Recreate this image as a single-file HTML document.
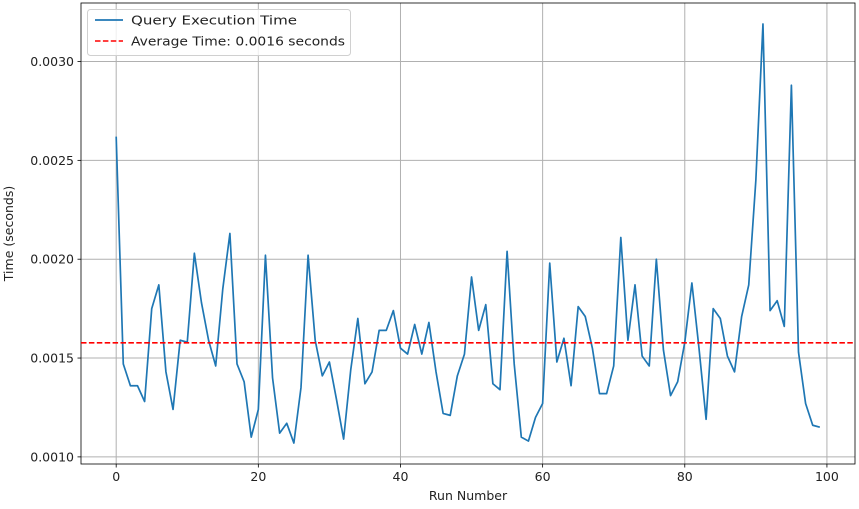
<!DOCTYPE html>
<html><head><meta charset="utf-8"><style>
body{margin:0;background:#fff;font-family:"Liberation Sans","DejaVu Sans",sans-serif}
svg text{font-family:"DejaVu Sans","Liberation Sans",sans-serif;font-size:12.5px;fill:#222}
</style></head><body>
<svg id="chart" width="859" height="504" xmlns="http://www.w3.org/2000/svg">
<g id="grid"></g>
<g id="axes"></g>
<g id="series"></g>
<g id="legend"></g>
</svg>
<script>
const runTimes=[0.00262,0.00147,0.00136,0.00136,0.00128,0.00175,0.00187,0.00143,0.00124,0.00159,
0.00158,0.00203,0.00178,0.00159,0.00146,0.00185,0.00213,0.00147,0.00138,0.00110,
0.00124,0.00202,0.00140,0.00112,0.00117,0.00107,0.00135,0.00202,0.00159,0.00141,
0.00148,0.00129,0.00109,0.00144,0.00170,0.00137,0.00143,0.00164,0.00164,0.00174,
0.00155,0.00152,0.00167,0.00152,0.00168,0.00143,0.00122,0.00121,0.00141,0.00152,
0.00191,0.00164,0.00177,0.00137,0.00134,0.00204,0.00147,0.00110,0.00108,0.00120,
0.00127,0.00198,0.00148,0.00160,0.00136,0.00176,0.00171,0.00155,0.00132,0.00132,
0.00146,0.00211,0.00159,0.00187,0.00151,0.00146,0.00200,0.00154,0.00131,0.00138,
0.00158,0.00188,0.00155,0.00119,0.00175,0.00170,0.00151,0.00143,0.00171,0.00187,
0.00240,0.00319,0.00174,0.00179,0.00166,0.00288,0.00153,0.00127,0.00116,0.00115];
const xTicks=[0,20,40,60,80,100];
const yTicks=[0.0010,0.0015,0.0020,0.0025,0.0030];
const L=81,R=855,T=3,B=464;
const xMin=-4.95,xMax=103.95,yMin=0.000964,yMax=0.003296;
const sx=v=>L+(v-xMin)/(xMax-xMin)*(R-L);
const sy=v=>B-(v-yMin)/(yMax-yMin)*(B-T);
const NS="http://www.w3.org/2000/svg";
function mk(tag,attrs,parent,text){const e=document.createElementNS(NS,tag);for(const k in attrs)e.setAttribute(k,attrs[k]);if(text!==undefined)e.textContent=text;parent.appendChild(e);return e;}
const grid=document.getElementById('grid'),axes=document.getElementById('axes'),series=document.getElementById('series'),legend=document.getElementById('legend');
xTicks.forEach(t=>{const x=sx(t);
const g=mk('line',{x1:x,x2:x,y1:T,y2:B,stroke:'#b0b0b0','stroke-width':1},grid);

mk('line',{x1:x,x2:x,y1:B,y2:B+3.5,stroke:'#000','stroke-width':0.8},axes);
const tl=mk('text',{x:x,y:B+17,'text-anchor':'middle'},axes,String(t));
});
yTicks.forEach(t=>{const y=sy(t);
const g=mk('line',{x1:L,x2:R,y1:y,y2:y,stroke:'#b0b0b0','stroke-width':1},grid);

mk('line',{x1:L-3.5,x2:L,y1:y,y2:y,stroke:'#000','stroke-width':0.8},axes);
const tl=mk('text',{x:L-7,y:y+4.5,'text-anchor':'end'},axes,t.toFixed(4));
});
const frame=mk('rect',{x:L,y:T,width:R-L,height:B-T,fill:'none',stroke:'#000','stroke-width':0.8},axes);

const xl=mk('text',{x:(L+R)/2,y:500,'text-anchor':'middle'},axes,'Run Number');

const yl=mk('text',{x:0,y:0,'text-anchor':'middle',transform:'translate(13,'+((T+B)/2)+') rotate(-90)'},axes,'Time (seconds)');

const mean=runTimes.reduce((a,b)=>a+b,0)/runTimes.length;
const pts=runTimes.map((v,i)=>sx(i).toFixed(2)+','+sy(v).toFixed(2)).join(' ');
const line=mk('polyline',{points:pts,fill:'none',stroke:'#1f77b4','stroke-width':1.7,'stroke-linejoin':'round'},series);

const avg=mk('line',{x1:L,x2:R,y1:sy(mean),y2:sy(mean),stroke:'#ff0000','stroke-width':1.6,'stroke-dasharray':'5.5,2.4'},series);

const box=mk('rect',{x:87.5,y:9.5,width:263,height:46,rx:3,fill:'#fff','fill-opacity':0.8,stroke:'#d0d0d0'},legend);

mk('line',{x1:95,x2:123,y1:20,y2:20,stroke:'#1f77b4','stroke-width':1.7},legend);
const l1=mk('text',{x:131,y:24.5,textLength:166,lengthAdjust:'spacingAndGlyphs'},legend,'Query Execution Time');

mk('line',{x1:95,x2:123,y1:41,y2:41,stroke:'#ff0000','stroke-width':1.6,'stroke-dasharray':'5.5,2.4'},legend);
const l2=mk('text',{x:131,y:45.5,textLength:214,lengthAdjust:'spacingAndGlyphs'},legend,'Average Time: '+mean.toFixed(4)+' seconds');

</script>
</body></html>
